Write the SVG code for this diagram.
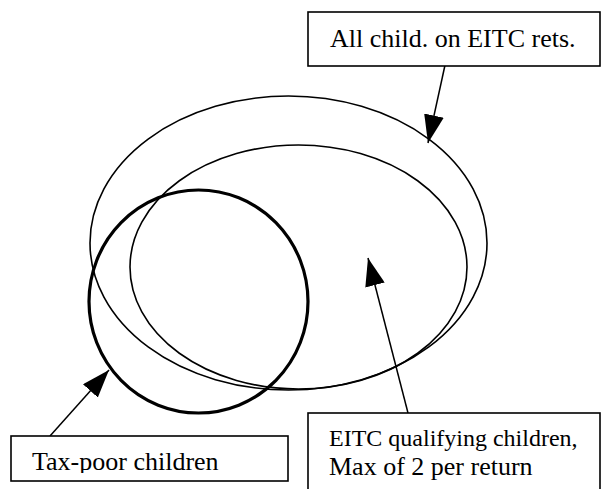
<svg xmlns="http://www.w3.org/2000/svg" width="602" height="489" viewBox="0 0 602 489">
<style>
.ell{fill:none;stroke:#000;stroke-width:1.6}
.thick{fill:none;stroke:#000;stroke-width:3.2}
.box{fill:#fff;stroke:#000;stroke-width:1.6}
.conn{stroke:#000;stroke-width:1.5;fill:none;marker-end:url(#ah)}
</style>
<defs>
<marker id="ah" markerUnits="userSpaceOnUse" markerWidth="28" markerHeight="20" refX="28" refY="10" orient="auto" viewBox="0 0 28 20">
<path d="M0,0 L28,10 L0,20 z" fill="#000"/>
</marker>
<clipPath id="clip2"><rect x="0" y="430" width="300" height="43"/></clipPath>
</defs>
<g id="outer-ellipse"><ellipse class="ell" cx="288.5" cy="243" rx="198.5" ry="147"/></g>
<g id="inner-ellipse"><ellipse class="ell" cx="298.5" cy="267" rx="168.5" ry="122"/></g>
<g id="tax-poor-circle"><ellipse class="thick" cx="198.5" cy="301.5" rx="109.5" ry="111.5"/></g>
<g id="connectors">
<line class="conn" x1="447" y1="56" x2="428" y2="143"/>
<line class="conn" x1="50" y1="436" x2="109" y2="370"/>
<line class="conn" x1="408" y1="413" x2="368" y2="258"/>
</g>
<g id="box-all">
<rect class="box" x="308" y="12" width="292" height="54"/>
<text font-family="'Liberation Serif', 'Times New Roman', 'DejaVu Serif', serif" x="330" y="47" font-size="26" fill="#000">All child. on EITC rets.</text>
</g>
<g id="box-taxpoor">
<rect class="box" x="11" y="436" width="277" height="45"/>
<text font-family="'Liberation Serif', 'Times New Roman', 'DejaVu Serif', serif" x="32" y="470" font-size="26" fill="#000" clip-path="url(#clip2)">Tax-poor children</text>
</g>
<g id="box-eitc">
<rect class="box" x="308" y="413" width="292" height="80"/>
<text font-family="'Liberation Serif', 'Times New Roman', 'DejaVu Serif', serif" x="329" y="446" font-size="24" fill="#000">EITC qualifying children,</text>
<text font-family="'Liberation Serif', 'Times New Roman', 'DejaVu Serif', serif" x="329" y="475" font-size="26" fill="#000">Max of 2 per return</text>
</g>
</svg>
